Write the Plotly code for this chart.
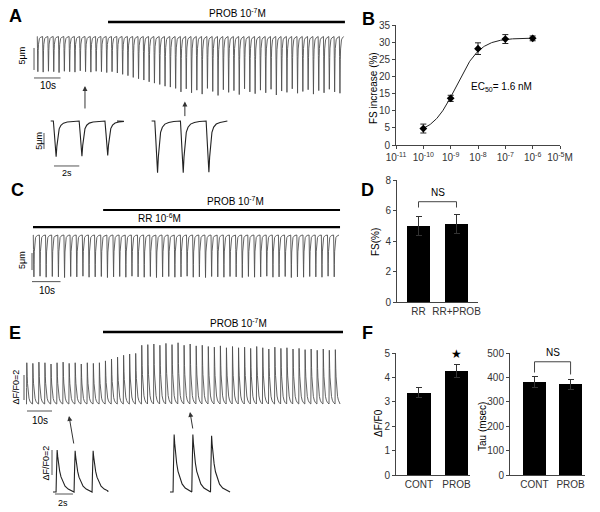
import numpy as np
import plotly.graph_objects as go

# ---------------- data ----------------
# Panel A: cell-shortening trace, per-beat shortening amplitude (um)
A_AMPS = [8.0, 8.1, 7.9, 8.0, 8.2, 7.9, 8.0, 8.1, 7.8, 8.0, 8.1, 7.9, 8.0, 8.2, 8.0, 8.3,
          8.6, 8.9, 9.3, 9.6, 9.9, 10.3, 10.6, 10.9, 11.3, 11.5, 11.8,
          12.6, 11.9, 12.8, 12.2, 13.1, 11.8, 12.5, 13.4, 12.1, 12.7,
          12.3, 13.2, 11.9, 12.6, 13.0, 12.2, 12.8, 12.0, 13.3, 12.4,
          12.7, 11.9, 12.9, 12.5, 12.1, 13.1, 12.3, 12.8, 12.0, 12.6, 12.9]
A_PERIOD = 2.0            # s between beats
A_DRUG = [26.8, 116.2]    # PROB application (s)
A_INSET_CONT = [11.2, 11.0, 10.8]
A_INSET_PROB = [16.2, 16.2, 16.0]

# Panel B: dose-response
B_CONC = [1e-10, 1e-9, 1e-8, 1e-7, 1e-6]
B_FS = [4.8, 13.6, 28.1, 30.9, 31.1]
B_SE = [1.3, 0.9, 1.7, 1.3, 0.7]
B_FIT = dict(bottom=3.2, top=31.2, ec50=1.6e-9, hill=1.0)
B_TICKS = [1e-11, 1e-10, 1e-9, 1e-8, 1e-7, 1e-6, 1e-5]
B_TICKTEXT = ["10<sup>-11</sup>", "10<sup>-10</sup>", "10<sup>-9</sup>", "10<sup>-8</sup>",
              "10<sup>-7</sup>", "10<sup>-6</sup>", "10<sup>-5</sup>M"]

# Panel C: shortening trace with RR
C_AMPS = [12.3, 12.1, 12.4, 12.2, 12.3, 12.5, 12.2, 12.3, 12.1, 12.4,
          12.3, 12.2, 12.5, 12.3, 12.2, 12.4, 12.1, 12.3, 12.4, 12.2,
          12.5, 12.3, 12.2, 12.4, 12.3, 12.1, 12.4, 12.3, 12.5, 12.2,
          12.3, 12.4, 12.2, 12.3, 12.5, 12.2, 12.4, 12.3, 12.1, 12.4,
          12.3, 12.2, 12.5, 12.3, 12.4, 12.2, 12.3, 12.4, 12.1, 12.3]
C_PERIOD = 2.15
C_RR = [0.0, 107.7]
C_PROB = [24.6, 107.7]

# Panel D
D_CATS = ["RR", "RR+PROB"]
D_VALS = [5.0, 5.1]
D_SE = [0.63, 0.63]

# Panel E: Ca2+ transient trace, per-beat dF/F0 amplitude
E_AMPS = [3.3, 3.25, 3.35, 3.3, 3.2, 3.3, 3.35, 3.25, 3.3, 3.2, 3.3, 3.25, 3.3,
          3.45, 3.6, 3.75, 3.9, 4.0, 4.05,
          4.7, 4.75, 4.8, 4.7, 4.85, 4.75, 4.9, 4.7, 4.8, 4.65, 4.7,
          4.6, 4.55, 4.65, 4.5, 4.6, 4.5, 4.55, 4.45, 4.6, 4.5, 4.4,
          4.55, 4.45, 4.5, 4.4, 4.45, 4.35, 4.4, 4.3, 4.4, 4.3, 4.35]
E_PERIOD = 2.42
E_DRUG = [30.8, 126.8]
E_INSET_CONT = [3.35, 3.3, 3.3]
E_INSET_PROB = [4.6, 4.6, 4.5]

# Panel F
F_CATS = ["CONT", "PROB"]
F_DFF0 = [3.37, 4.26]
F_DFF0_SE = [0.2, 0.27]
F_TAU = [381, 372]
F_TAU_SE = [22, 20]

# waveform templates (time after onset in s, fraction of beat amplitude)
TWITCH_T = [0, 0.08, 0.16, 0.22, 0.28, 0.36, 0.46, 0.6, 0.8, 1.1, 1.5]
TWITCH_V = [0, -0.35, -0.85, -1.0, -0.7, -0.4, -0.22, -0.12, -0.06, -0.03, -0.01]
CA_T = [0, 0.04, 0.08, 0.12, 0.18, 0.28, 0.4, 0.55, 0.75, 1.0, 1.35, 1.75]
CA_V = [0, 0.4, 0.85, 1.0, 0.85, 0.66, 0.5, 0.36, 0.24, 0.14, 0.07, 0.03]


def waveform(seg_start, seg_end, first_onset, period, amps, tt, vv):
    xs, ys = [seg_start], [0.0]
    for i, a in enumerate(amps):
        t0 = first_onset + i * period
        xs += [t0 + t for t in tt]
        ys += [a * v for v in vv]
    xs.append(seg_end)
    ys.append(0.0)
    return xs, ys


FONT = "Liberation Sans, Arial, sans-serif"
TRACE_COL = "#505050"
AX_COL = "#444"
TICK_FONT = dict(family=FONT, size=10, color="#333")

fig = go.Figure()


def line(x, y, xa, ya, color="black", width=1.0):
    fig.add_trace(go.Scatter(x=x, y=y, mode="lines", xaxis=xa, yaxis=ya,
                             line=dict(color=color, width=width), hoverinfo="skip",
                             showlegend=False))


# ---- Panel A main trace (axis x/y)
ax_, ay_ = waveform(0, 0.1 + (len(A_AMPS) - 1) * A_PERIOD + 1.6, 0.1, A_PERIOD, A_AMPS, TWITCH_T, TWITCH_V)
line(ax_, ay_, "x", "y", TRACE_COL, 0.9)
line(A_DRUG, [3.3, 3.3], "x", "y", "black", 2.5)
line([-1.13, -1.13], [-2.61, -7.61], "x", "y", "#555", 1)     # 5 um
line([-1.13, 8.87], [-9.43, -9.43], "x", "y", "#555", 1)      # 10 s

# ---- Panel A insets (axis x2/y2)
x1, y1 = waveform(0, 5.24, 0.21, 2.04, A_INSET_CONT, TWITCH_T, TWITCH_V)
x2, y2 = waveform(7.98, 13.97, 8.23, 2.03, A_INSET_PROB, TWITCH_T, TWITCH_V)
line(x1 + [None] + x2, y1 + [None] + y2, "x2", "y2", "#222", 1.1)
line([-0.53, -0.53], [-3.75, -8.75], "x2", "y2", "#555", 1)
line([0.26, 2.26], [-14.06, -14.06], "x2", "y2", "#555", 1)

# ---- Panel B (axis x3/y3)
fit_x = np.logspace(-10, -6, 200)
fit_y = B_FIT["bottom"] + (B_FIT["top"] - B_FIT["bottom"]) / (1 + (B_FIT["ec50"] / fit_x) ** B_FIT["hill"])
line(fit_x, fit_y, "x3", "y3", "#222", 1)
fig.add_trace(go.Scatter(x=B_CONC, y=B_FS, mode="markers", xaxis="x3", yaxis="y3",
                         marker=dict(color="black", size=6, symbol="diamond"),
                         error_y=dict(type="data", array=B_SE, color="#222", thickness=1, width=3),
                         showlegend=False, hoverinfo="skip"))

# ---- Panel C (axis x4/y4)
cx, cy = waveform(0, 0.1 + (len(C_AMPS) - 1) * C_PERIOD + 1.9, 0.1, C_PERIOD, C_AMPS, TWITCH_T, TWITCH_V)
line(cx, cy, "x4", "y4", TRACE_COL, 0.9)
line(C_PROB, [7.35, 7.35], "x4", "y4", "black", 2.2)
line(C_RR, [2.35, 2.35], "x4", "y4", "black", 2.2)
line([-0.35, -0.35], [-5.3, -10.3], "x4", "y4", "#555", 1)
line([-0.35, 9.65], [-13.7, -13.7], "x4", "y4", "#555", 1)

# ---- Panel D (axis x5/y5)
fig.add_trace(go.Bar(x=[0, 1], y=D_VALS, width=0.6, xaxis="x5", yaxis="y5",
                     marker=dict(color="black", line=dict(width=0)),
                     error_y=dict(type="data", array=D_SE, color="#333", thickness=1, width=3),
                     showlegend=False, hoverinfo="skip"))
line([0, 0, 1, 1], [6.2, 6.58, 6.58, 6.2], "x5", "y5", "#444", 1)

# ---- Panel E main (axis x6/y6)
ex, ey = waveform(0, 0.2 + (len(E_AMPS) - 1) * E_PERIOD + 2.0, 0.2, E_PERIOD, E_AMPS, CA_T, CA_V)
line(ex, ey, "x6", "y6", TRACE_COL, 0.9)
line(E_DRUG, [5.76, 5.76], "x6", "y6", "black", 2.5)
line([-0.8, -0.8], [0.32, 2.32], "x6", "y6", "#555", 1)
line([0.4, 10.4], [-0.56, -0.56], "x6", "y6", "#555", 1)

# ---- Panel E insets (axis x7/y7)
e1x, e1y = waveform(0, 6.1, 0.34, 2.0, E_INSET_CONT, CA_T, CA_V)
e2x, e2y = waveform(13.0, 19.67, 13.34, 2.08, E_INSET_PROB, CA_T, CA_V)
line(e1x + [None] + e2x, e1y + [None] + e2y, "x7", "y7", "#222", 1.1)
line([-0.11, -0.11], [1.36, 3.36], "x7", "y7", "#555", 1)
line([0.22, 2.22], [-0.16, -0.16], "x7", "y7", "#555", 1)

# ---- Panel F (axes x8/y8 and x9/y9)
fig.add_trace(go.Bar(x=[0, 1], y=F_DFF0, width=0.62, xaxis="x8", yaxis="y8",
                     marker=dict(color="black", line=dict(width=0)),
                     error_y=dict(type="data", array=F_DFF0_SE, color="#333", thickness=1, width=3),
                     showlegend=False, hoverinfo="skip"))
fig.add_trace(go.Bar(x=[0, 1], y=F_TAU, width=0.64, xaxis="x9", yaxis="y9",
                     marker=dict(color="black", line=dict(width=0)),
                     error_y=dict(type="data", array=F_TAU_SE, color="#333", thickness=1, width=3),
                     showlegend=False, hoverinfo="skip"))
line([0, 0, 1, 1], [420, 464, 464, 412], "x9", "y9", "#444", 1)


# ---------------- layout ----------------
def fx(a, b):
    return [a / 600, b / 600]


def fy(top, bottom):
    return [1 - bottom / 512, 1 - top / 512]


def hidden(domain, rng, anchor):
    return dict(domain=domain, range=rng, visible=False, fixedrange=True, anchor=anchor,
                automargin=False)


def yvis(domain, rng, dtick, anchor):
    return dict(domain=domain, range=rng, anchor=anchor, showline=True, linecolor=AX_COL,
                linewidth=1, ticks="outside", ticklen=3, tickcolor=AX_COL, dtick=dtick,
                tickfont=TICK_FONT, showgrid=False, zeroline=False, fixedrange=True,
                automargin=False)


def xbar(domain, rng, cats, anchor):
    return dict(domain=domain, range=rng, anchor=anchor, showline=True, linecolor=AX_COL,
                linewidth=1, ticks="", tickvals=[0, 1], ticktext=cats, tickfont=TICK_FONT,
                showgrid=False, zeroline=False, fixedrange=True, automargin=False)


layout = dict(
    template="none",
    width=600, height=512, margin=dict(l=0, r=0, t=0, b=0, pad=0, autoexpand=False),
    paper_bgcolor="white", plot_bgcolor="white", showlegend=False,
    font=dict(family=FONT, size=10, color="black"), bargap=0,
    xaxis=hidden(fx(20, 348), [-6.42, 117.36], "y"),
    yaxis=hidden(fy(10, 102), [-14.89, 6.02], "x"),
    xaxis2=hidden(fx(38, 228), [-1.004, 14.02], "y2"),
    yaxis2=hidden(fy(112, 180), [-18.44, 2.81], "x2"),
    xaxis3=dict(domain=fx(396, 560), type="log", range=[-11, -5], anchor="y3",
                showline=True, linecolor=AX_COL, linewidth=1, ticks="outside", ticklen=3,
                tickcolor=AX_COL, tickvals=B_TICKS, ticktext=B_TICKTEXT, tickfont=TICK_FONT,
                showgrid=False, zeroline=False, fixedrange=True, automargin=False),
    yaxis3=yvis(fy(25, 145), [0, 35], 5, "x3"),
    xaxis4=hidden(fx(20, 348), [-4.56, 110.5], "y4"),
    yaxis4=hidden(fy(196, 300), [-19.1, 11.47], "x4"),
    xaxis5=xbar(fx(397, 478), [-0.566, 1.566], D_CATS, "y5"),
    yaxis5=yvis(fy(180, 302.3), [0, 8], 2, "x5"),
    xaxis6=hidden(fx(5, 348), [-8.4, 128.8], "y6"),
    yaxis6=hidden(fy(318, 425), [-1.68, 6.88], "x6"),
    xaxis7=hidden(fx(40, 235), [-1.444, 20.22], "y7"),
    yaxis7=hidden(fy(425, 510), [-1.44, 5.36], "x7"),
    xaxis8=xbar(fx(396, 470), [-0.613, 1.36], F_CATS, "y8"),
    yaxis8=yvis(fy(353, 475), [0, 5], 1, "x8"),
    xaxis9=xbar(fx(510, 585), [-0.68, 1.40], F_CATS, "y9"),
    yaxis9=yvis(fy(353, 475), [0, 500], 100, "x9"),
)

ann = []


def text(t, x, y, xref, yref, size=10, angle=0, xanchor="center", yanchor="middle", color="black", yshift=0):
    ann.append(dict(text=t, x=x, y=y, xref=xref, yref=yref, showarrow=False, textangle=angle,
                    xanchor=xanchor, yanchor=yanchor, yshift=yshift,
                    font=dict(family=FONT, size=size, color=color)))


def arrow(x, y, xref, yref, axp, ayp):
    ann.append(dict(text="", x=x, y=y, xref=xref, yref=yref, showarrow=True, ax=axp, ay=ayp,
                    arrowhead=2, arrowsize=1, arrowwidth=1, arrowcolor="#333",
                    font=dict(family=FONT, size=10)))


# panel letters
for letter, px, py in [("A", 15, 16), ("B", 368, 19), ("C", 17, 190), ("D", 367, 190),
                       ("E", 15, 333), ("F", 367, 333)]:
    text("<b>%s</b>" % letter, px / 600, 1 - py / 512, "paper", "paper", size=18)

# A
text("PROB 10<sup>-7</sup>M", 75.8, 3.3, "x", "y", size=10, yanchor="bottom", yshift=1)
text("5μm", -5.8, -4.4, "x", "y", size=9, angle=-90)
text("10s", 4.2, -11.25, "x", "y", size=10)
text("5μm", -0.95, -6.25, "x2", "y2", size=9, angle=-90)
text("2s", 1.26, -16.25, "x2", "y2", size=9)
arrow(18.1, -11.25, "x", "y", 0, 24)
arrow(55.8, -14.8, "x", "y", 0, 16)

# B
text("FS increase (%)", 373 / 600, 1 - 88 / 512, "paper", "paper", size=10, angle=-90)
text("EC<sub>50</sub>= 1.6 nM", -8.33, 16.9, "x3", "y3", size=10, xanchor="left")

# C
text("PROB 10<sup>-7</sup>M", 71.2, 7.35, "x4", "y4", size=10, yanchor="bottom", yshift=1)
text("RR 10<sup>-6</sup>M", 44.2, 2.35, "x4", "y4", size=10, yanchor="bottom", yshift=1)
text("5μm", -3.86, -7.35, "x4", "y4", size=9, angle=-90)
text("10s", 4.9, -16.2, "x4", "y4", size=10)

# D
text("FS(%)", 375 / 600, 1 - 242 / 512, "paper", "paper", size=10, angle=-90)
text("NS", 0.5, 6.58, "x5", "y5", size=10, yanchor="bottom", yshift=2)

# E
text("PROB 10<sup>-7</sup>M", 84.8, 5.76, "x6", "y6", size=10, yanchor="bottom", yshift=1)
text("ΔF/F0=2", -4.4, 1.32, "x6", "y6", size=9, angle=-90)
text("10s", 5.6, -1.28, "x6", "y6", size=10)
text("ΔF/F0=2", -0.78, 2.36, "x7", "y7", size=9, angle=-90)
text("2s", 1.1, -0.88, "x7", "y7", size=9)
arrow(17.2, -0.96, "x6", "y6", 5, 29)
arrow(65.6, -0.64, "x6", "y6", 3, 18)

# F
text("ΔF/F0", 378 / 600, 1 - 423 / 512, "paper", "paper", size=10, angle=-90)
text("Tau (msec)", 482 / 600, 1 - 427 / 512, "paper", "paper", size=10, angle=-90)
text("★", 1, 4.53, "x8", "y8", size=12, yanchor="bottom", yshift=1)
text("NS", 0.5, 464, "x9", "y9", size=10, yanchor="bottom", yshift=2)

layout["annotations"] = ann
fig.update_layout(**layout)
fig.write_html("out.html", config={"displayModeBar": False},
               post_script="document.body.style.margin='0px';document.body.style.overflow='hidden';")
